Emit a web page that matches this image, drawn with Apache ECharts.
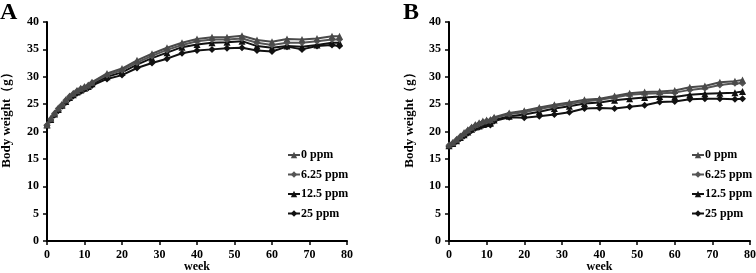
<!DOCTYPE html>
<html><head><meta charset="utf-8">
<script src="https://cdn.jsdelivr.net/npm/echarts@6/dist/echarts.min.js"></script>
<style>html,body{margin:0;padding:0;background:#fff}#c{width:756px;height:273px}</style>
</head><body><div id="c"></div>
<script>
const weeks = [0,1,2,3,4,5,6,7,8,9,10,11,12,16,20,24,28,32,36,40,44,48,52,56,60,64,68,72,76,78];
const seriesNames = ['0 ppm','6.25 ppm','12.5 ppm','25 ppm'];
const A_0    = [21.3,22.4,23.4,24.3,25.0,25.8,26.5,27.0,27.5,27.9,28.2,28.5,29.0,30.6,31.5,33.0,34.2,35.3,36.2,36.9,37.2,37.2,37.5,36.7,36.4,36.9,36.8,37.0,37.4,37.4];
const A_625  = [21.2,22.3,23.3,24.2,24.9,25.7,26.4,26.9,27.4,27.8,28.1,28.4,28.9,30.3,31.2,32.6,33.8,34.9,35.8,36.5,36.8,36.8,37.0,36.2,35.8,36.2,36.2,36.5,36.8,36.8];
const A_125  = [21.2,22.2,23.2,24.0,24.8,25.5,26.2,26.7,27.2,27.6,27.9,28.2,28.7,30.0,30.8,32.2,33.4,34.4,35.4,35.9,36.2,36.3,36.5,35.6,35.3,35.6,35.5,35.8,36.2,36.2];
const A_25   = [21.1,22.1,23.0,23.8,24.6,25.3,26.0,26.5,27.0,27.3,27.7,28.0,28.4,29.6,30.3,31.6,32.5,33.3,34.3,34.8,35.0,35.2,35.3,34.8,34.6,35.5,35.0,35.6,35.8,35.6];
const B_0    = [17.6,18.0,18.6,19.2,19.8,20.3,20.8,21.3,21.6,21.9,22.1,22.2,22.6,23.4,23.8,24.4,24.9,25.3,25.8,26.0,26.5,27.0,27.2,27.3,27.5,28.1,28.3,29.0,29.2,29.4];
const B_625  = [17.5,17.9,18.5,19.1,19.6,20.2,20.7,21.1,21.4,21.7,21.9,22.0,22.4,23.2,23.5,24.1,24.6,25.0,25.5,25.8,26.2,26.7,26.9,27.0,27.1,27.6,27.9,28.5,28.8,28.8];
const B_125  = [17.4,17.8,18.3,18.9,19.4,19.9,20.4,20.8,21.0,21.3,21.5,21.5,22.1,22.8,23.1,23.6,24.2,24.6,25.1,25.3,25.7,26.0,26.2,26.4,26.3,26.7,26.9,27.0,27.1,27.3];
const B_25   = [17.3,17.7,18.2,18.7,19.2,19.7,20.2,20.6,20.8,21.1,21.3,21.2,21.9,22.6,22.5,22.8,23.1,23.5,24.2,24.3,24.2,24.5,24.8,25.4,25.5,25.9,26.0,26.0,25.9,26.0];
const yName = 'Body weight（g）';
const xName = 'week';

const FONT = '"Liberation Serif","Times New Roman",serif';
const colors = ['#4a4a4a','#555555','#111111','#111111'];
const symbols = ['triangle','diamond','triangle','diamond'];

const chart = echarts.init(document.getElementById('c'));
const grids = [
  {left:47, width:300, top:22, height:219, outerBoundsMode:'none', containLabel:false},
  {left:449, width:301, top:22, height:219, outerBoundsMode:'none', containLabel:false}
];
function xAxis(i){return {type:'value',gridIndex:i,min:0,max:80,interval:10,name:xName,nameLocation:'middle',nameGap:20,nameMoveOverlap:false,
  nameTextStyle:{fontFamily:FONT,fontWeight:'bold',fontSize:12,color:'#000'},
  axisLine:{lineStyle:{color:'#000',width:2}},axisTick:{length:4,lineStyle:{color:'#000',width:1.5}},
  axisLabel:{fontFamily:FONT,fontWeight:'bold',fontSize:12,color:'#000',margin:8},splitLine:{show:false}};}
function yAxis(i){return {type:'value',gridIndex:i,min:0,max:40,interval:5,
  axisLine:{show:true,lineStyle:{color:'#000',width:2}},axisTick:{show:true,length:4,lineStyle:{color:'#000',width:1.5}},
  axisLabel:{fontFamily:FONT,fontWeight:'bold',fontSize:12,color:'#000',margin:8},splitLine:{show:false}};}
const dataSets = [[A_0,A_625,A_125,A_25],[B_0,B_625,B_125,B_25]];
const series = [];
dataSets.forEach((set,gi)=>{
  set.forEach((vals,si)=>{
    series.push({type:'line',name:seriesNames[si],xAxisIndex:gi,yAxisIndex:gi,
      data:weeks.map((w,k)=>[w,vals[k]]),symbol:symbols[si],symbolSize:7,
      lineStyle:{color:colors[si],width:2},itemStyle:{color:colors[si]},z:10-si,animation:false});
  });
});
function legend(left){return {left:left,top:149,orient:'vertical',itemWidth:12,itemHeight:8,itemGap:7.5,padding:0,
  data:seriesNames,
  textStyle:{fontFamily:FONT,fontWeight:'bold',fontSize:12,color:'#000',padding:[0,0,0,-4]},selectedMode:false};}
chart.setOption({
  animation:false,
  grid:grids,
  xAxis:[xAxis(0),xAxis(1)],
  yAxis:[yAxis(0),yAxis(1)],
  legend:[legend(287),legend(691)],
  series:series,
  graphic:[
    {type:'text',left:0,top:1,style:{text:'A',font:'bold 24px '+FONT,fill:'#000'}},
    {type:'text',left:403,top:1,style:{text:'B',font:'bold 24px '+FONT,fill:'#000'}},
    {type:'text',x:7,y:117,rotation:Math.PI/2,style:{text:yName,font:'bold 13px '+FONT,fill:'#000',align:'center',verticalAlign:'middle'}},
    {type:'text',x:410,y:117,rotation:Math.PI/2,style:{text:yName,font:'bold 13px '+FONT,fill:'#000',align:'center',verticalAlign:'middle'}}
  ]
});
</script></body></html>
